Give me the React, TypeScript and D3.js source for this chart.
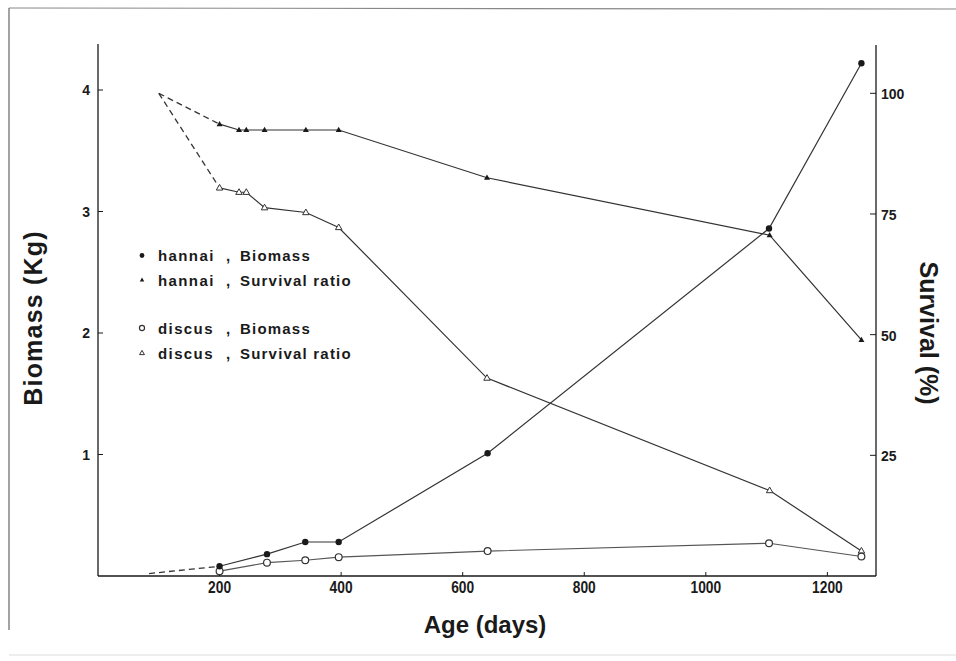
import React from "react";
import * as d3 from "d3";

// ---- data ----
const biomassDays = [200, 278, 341, 396, 641, 1104, 1256];
const hannaiBiomass = [0.08, 0.18, 0.28, 0.28, 1.01, 2.86, 4.22];
const discusBiomass = [0.04, 0.11, 0.13, 0.155, 0.205, 0.27, 0.16];
const biomassStart = { day: 84, value: 0.02 };

const survivalDays = [200, 232, 244, 274, 342, 396, 640, 1105, 1256];
const hannaiSurvival = [93.6, 92.4, 92.4, 92.4, 92.4, 92.4, 82.5, 70.6, 48.9];
const discusSurvival = [80.4, 79.5, 79.5, 76.3, 75.3, 72.2, 41.0, 17.7, 5.2];
const survivalStart = { day: 100, value: 100 };

const xTicks = [200, 400, 600, 800, 1000, 1200];
const biomassTicks = [1, 2, 3, 4];
const survivalTicks = [25, 50, 75, 100];

const legendItems = [
  { name: "hannai", kind: "Biomass", marker: "fcircle" },
  { name: "hannai", kind: "Survival ratio", marker: "ftri" },
  { name: "discus", kind: "Biomass", marker: "ocircle" },
  { name: "discus", kind: "Survival ratio", marker: "otri" },
];

const X0 = 98, X1 = 876, YB = 576, YT = 44;

const x = d3.scaleLinear().domain([0, 1280]).range([X0, X1]);
const yB = d3.scaleLinear().domain([0, 4]).range([YB, 90]);
const yS = d3.scaleLinear().domain([0, 100]).range([YB, 93.3]);

const FONT = "'Liberation Sans', Arial, Helvetica, sans-serif";
const INK = "#1a1a1a";
const LINE = "#333";

function tri(cx: number, cy: number, s: number) {
  const h = s * 0.87;
  return `M${cx},${cy - h * 0.62} L${cx + s / 2},${cy + h * 0.38} L${cx - s / 2},${cy + h * 0.38} Z`;
}

function Marker({ type, cx, cy, k = 1 }: { type: string; cx: number; cy: number; k?: number }) {
  if (type === "fcircle") return <circle cx={cx} cy={cy} r={3.2 * k} fill={INK} />;
  if (type === "ocircle")
    return <circle cx={cx} cy={cy} r={3.4 * k} fill="#fff" stroke={LINE} strokeWidth={1.2} />;
  if (type === "ftri") return <path d={tri(cx, cy, 6 * k)} fill={INK} />;
  return <path d={tri(cx, cy, 6.5 * k)} fill="#fff" stroke={LINE} strokeWidth={1} />;
}

export default function App() {
  const lineB = d3
    .line<[number, number]>()
    .x((d) => x(d[0]))
    .y((d) => yB(d[1]));
  const lineS = d3
    .line<[number, number]>()
    .x((d) => x(d[0]))
    .y((d) => yS(d[1]));

  const hb = biomassDays.map((d, i) => [d, hannaiBiomass[i]] as [number, number]);
  const db = biomassDays.map((d, i) => [d, discusBiomass[i]] as [number, number]);
  const hs = survivalDays.map((d, i) => [d, hannaiSurvival[i]] as [number, number]);
  const ds = survivalDays.map((d, i) => [d, discusSurvival[i]] as [number, number]);

  return (
    <svg width={956} height={661} style={{ position: "absolute", left: 0, top: 0, background: "#fff" }}>
      {/* outer frame (scanned page) */}
      <line x1={9} y1={8} x2={956} y2={9} stroke="#888" strokeWidth={1.2} />
      <line x1={9} y1={8} x2={9} y2={630} stroke="#666" strokeWidth={1.2} />
      <line x1={9} y1={655} x2={956} y2={655} stroke="#ddd" strokeWidth={1} />

      {/* axes */}
      <line x1={X0} y1={YT} x2={X0} y2={YB} stroke={INK} strokeWidth={1.3} />
      <line x1={X1} y1={45} x2={X1} y2={YB} stroke={INK} strokeWidth={1.3} />
      <line x1={X0} y1={YB} x2={X1} y2={YB} stroke={INK} strokeWidth={1.3} />

      {xTicks.map((t) => (
        <g key={"x" + t}>
          <line x1={x(t)} y1={YB} x2={x(t)} y2={YB - 4} stroke={INK} strokeWidth={1} />
          <text
            transform={`translate(${x(t)},${YB + 17}) scale(0.92,1.12)`}
            textAnchor="middle"
            fontFamily={FONT}
            fontWeight="bold"
            fontSize={15}
            fill={INK}
          >
            {t}
          </text>
        </g>
      ))}
      {biomassTicks.map((t) => (
        <g key={"b" + t}>
          <line x1={X0} y1={yB(t)} x2={X0 + 5} y2={yB(t)} stroke={INK} strokeWidth={1} />
          <text x={90} y={yB(t) + 5} textAnchor="end" fontFamily={FONT} fontWeight="bold" fontSize={14} fill={INK}>
            {t}
          </text>
        </g>
      ))}
      {survivalTicks.map((t) => (
        <g key={"s" + t}>
          <line x1={X1} y1={yS(t)} x2={X1 - 6} y2={yS(t)} stroke={INK} strokeWidth={1} />
          <text x={881} y={yS(t) + 6} textAnchor="start" fontFamily={FONT} fontWeight="bold" fontSize={14} fill={INK}>
            {t}
          </text>
        </g>
      ))}

      {/* axis titles */}
      <text x={485} y={633} textAnchor="middle" fontFamily={FONT} fontWeight="bold" fontSize={24} fill={INK}>
        Age (days)
      </text>
      <text
        transform="translate(42,318) rotate(-90)"
        textAnchor="middle"
        fontFamily={FONT}
        fontWeight="bold"
        fontSize={25}
        letterSpacing={1.2}
        fill={INK}
      >
        Biomass (Kg)
      </text>
      <text
        transform="translate(920,333) rotate(90)"
        textAnchor="middle"
        fontFamily={FONT}
        fontWeight="bold"
        fontSize={25}
        fill={INK}
      >
        Survival (%)
      </text>

      {/* dashed leading segments */}
      <path d={lineB([[biomassStart.day, biomassStart.value], hb[0]]) || ""} fill="none" stroke={LINE} strokeWidth={1.3} strokeDasharray="6,4" />
      <path d={lineS([[survivalStart.day, survivalStart.value], hs[0]]) || ""} fill="none" stroke={LINE} strokeWidth={1.3} strokeDasharray="6,4" />
      <path d={lineS([[survivalStart.day, survivalStart.value], ds[0]]) || ""} fill="none" stroke={LINE} strokeWidth={1.3} strokeDasharray="6,4" />

      {/* series lines */}
      <path d={lineB(db) || ""} fill="none" stroke="#555" strokeWidth={1.1} />
      <path d={lineB(hb) || ""} fill="none" stroke={LINE} strokeWidth={1.2} />
      <path d={lineS(ds) || ""} fill="none" stroke={LINE} strokeWidth={1.2} />
      <path d={lineS(hs) || ""} fill="none" stroke={LINE} strokeWidth={1.2} />

      {/* markers */}
      {ds.map((d, i) => (
        <Marker key={"ds" + i} type="otri" cx={x(d[0])} cy={yS(d[1])} />
      ))}
      {hs.map((d, i) => (
        <Marker key={"hs" + i} type="ftri" cx={x(d[0])} cy={yS(d[1])} />
      ))}
      {db.map((d, i) => (
        <Marker key={"db" + i} type="ocircle" cx={x(d[0])} cy={yB(d[1])} />
      ))}
      {hb.map((d, i) => (
        <Marker key={"hb" + i} type="fcircle" cx={x(d[0])} cy={yB(d[1])} />
      ))}

      {/* legend */}
      {legendItems.map((it, i) => {
        const base = [261, 285.5, 333.5, 358.5][i];
        return (
          <g key={"lg" + i}>
            <Marker type={it.marker} cx={142} cy={base - 5.5} k={0.75} />
            <text x={158} y={base} fontFamily={FONT} fontWeight="bold" fontSize={15} letterSpacing={1.4} fill={INK}>
              {it.name}
            </text>
            <text x={226} y={base} fontFamily={FONT} fontWeight="bold" fontSize={15} fill={INK}>
              ,
            </text>
            <text x={240} y={base} fontFamily={FONT} fontWeight="bold" fontSize={15} letterSpacing={1.2} fill={INK}>
              {it.kind}
            </text>
          </g>
        );
      })}
    </svg>
  );
}
